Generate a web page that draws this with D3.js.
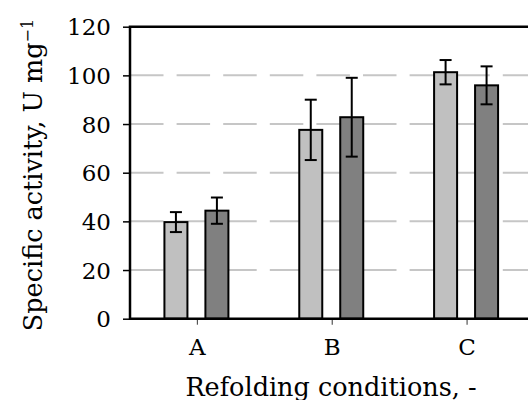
<!DOCTYPE html>
<html lang="en">
<head>
    <meta charset="utf-8">
    <title>Specific activity by refolding conditions</title>
    <script src="https://d3js.org/d3.v7.min.js"></script>
    <style>
        body { margin: 0; background: #fff; }
        svg text { font-family: "DejaVu Serif", serif; fill: #000; }
    </style>
</head>
<body>
    <svg width="528" height="400"></svg>

    <script>
        // Data
        var conditions = ["A", "B", "C"];
        var series = ["light", "dark"];
        var lightMeans = [39.7, 77.6, 101.3];
        var lightErrors = [4.1, 12.4, 5.0];
        var darkMeans = [44.4, 82.8, 95.9];
        var darkErrors = [5.4, 16.2, 7.8];
        var yTicks = [0, 20, 40, 60, 80, 100, 120];

        var colors = { light: "#c0c0c0", dark: "#808080" };

        var svg = d3.select("svg");

        // plot area (right side runs past the window edge, as in the original)
        var pLeft = 130, pRight = 534.5, pTop = 26.7, pBottom = 318.7;

        var x0 = d3.scaleBand()
            .domain(conditions)
            .range([pLeft, pRight]);

        var x1 = d3.scaleBand()
            .domain(series)
            .range([0, x0.bandwidth()])
            .paddingInner(0.39)
            .paddingOuter(0.84);

        var y = d3.scaleLinear()
            .domain([0, 120])
            .range([pBottom, pTop]);

        // build rows for drawing
        var rows = [];
        conditions.forEach(function(c, i) {
            rows.push({ cond: c, s: "light", v: lightMeans[i], e: lightErrors[i] });
            rows.push({ cond: c, s: "dark", v: darkMeans[i], e: darkErrors[i] });
        });

        // dashed gridlines
        svg.append("g")
            .selectAll("line")
            .data(yTicks.filter(function(d) { return d > 0 && d < 120; }))
            .enter()
            .append("line")
            .attr("x1", pLeft)
            .attr("x2", pRight)
            .attr("y1", function(d) { return y(d); })
            .attr("y2", function(d) { return y(d); })
            .attr("stroke", "#c6c6c6")
            .attr("stroke-width", 2)
            .style("stroke-dasharray", "33.5,13.1");

        // bars
        svg.append("g")
            .selectAll("rect")
            .data(rows)
            .enter()
            .append("rect")
            .attr("x", function(d) { return x0(d.cond) + x1(d.s); })
            .attr("y", function(d) { return y(d.v); })
            .attr("width", x1.bandwidth() - 2)
            .attr("height", function(d) { return y(0) - y(d.v); })
            .attr("fill", function(d) { return colors[d.s]; })
            .attr("stroke", "#000")
            .attr("stroke-width", 2);

        // error bars
        var eb = svg.append("g")
            .attr("stroke", "#000")
            .attr("stroke-width", 2)
            .selectAll("g")
            .data(rows)
            .enter()
            .append("g")
            .attr("transform", function(d) {
                return "translate(" + (x0(d.cond) + x1(d.s) + (x1.bandwidth() - 2) / 2) + ",0)";
            });

        eb.append("line")
            .attr("y1", function(d) { return y(d.v - d.e); })
            .attr("y2", function(d) { return y(d.v + d.e); });
        eb.append("line")
            .attr("x1", -6).attr("x2", 6)
            .attr("y1", function(d) { return y(d.v + d.e); })
            .attr("y2", function(d) { return y(d.v + d.e); });
        eb.append("line")
            .attr("x1", -6).attr("x2", 6)
            .attr("y1", function(d) { return y(d.v - d.e); })
            .attr("y2", function(d) { return y(d.v - d.e); });

        // y axis
        var yAxis = svg.append("g")
            .attr("transform", "translate(" + pLeft + ",0)")
            .call(d3.axisLeft(y).tickValues(yTicks).tickSize(7).tickPadding(12));
        yAxis.select(".domain").remove();
        yAxis.selectAll(".tick line").attr("stroke", "#000").attr("stroke-width", 1.5);
        yAxis.selectAll(".tick text")
            .style("font-size", "23px")
            .attr("dy", "0.36em");

        // x axis
        var xAxis = svg.append("g")
            .attr("transform", "translate(0," + pBottom + ")")
            .call(d3.axisBottom(x0).tickSize(6).tickPadding(14));
        xAxis.select(".domain").remove();
        xAxis.selectAll(".tick line").attr("stroke", "#555").attr("stroke-width", 1.2);
        xAxis.selectAll(".tick text")
            .style("font-size", "23px");

        // frame: left, bottom and top lines
        svg.append("path")
            .attr("d", "M" + pRight + "," + pTop + "H" + pLeft + "V" + pBottom + "H" + pRight)
            .attr("fill", "none")
            .attr("stroke", "#000")
            .attr("stroke-width", 2.5);

        // axis titles
        svg.append("text")
            .attr("x", 331)
            .attr("y", 395.5)
            .attr("text-anchor", "middle")
            .style("font-size", "25.5px")
            .text("Refolding conditions, -");

        var yt = svg.append("text")
            .attr("transform", "translate(42,175) rotate(-90)")
            .attr("text-anchor", "middle")
            .style("font-size", "25.5px");
        yt.append("tspan").text("Specific activity, U mg");
        yt.append("tspan")
            .attr("dy", "-0.55em")
            .style("font-size", "16px")
            .text("\u22121");
    </script>
</body>
</html>
